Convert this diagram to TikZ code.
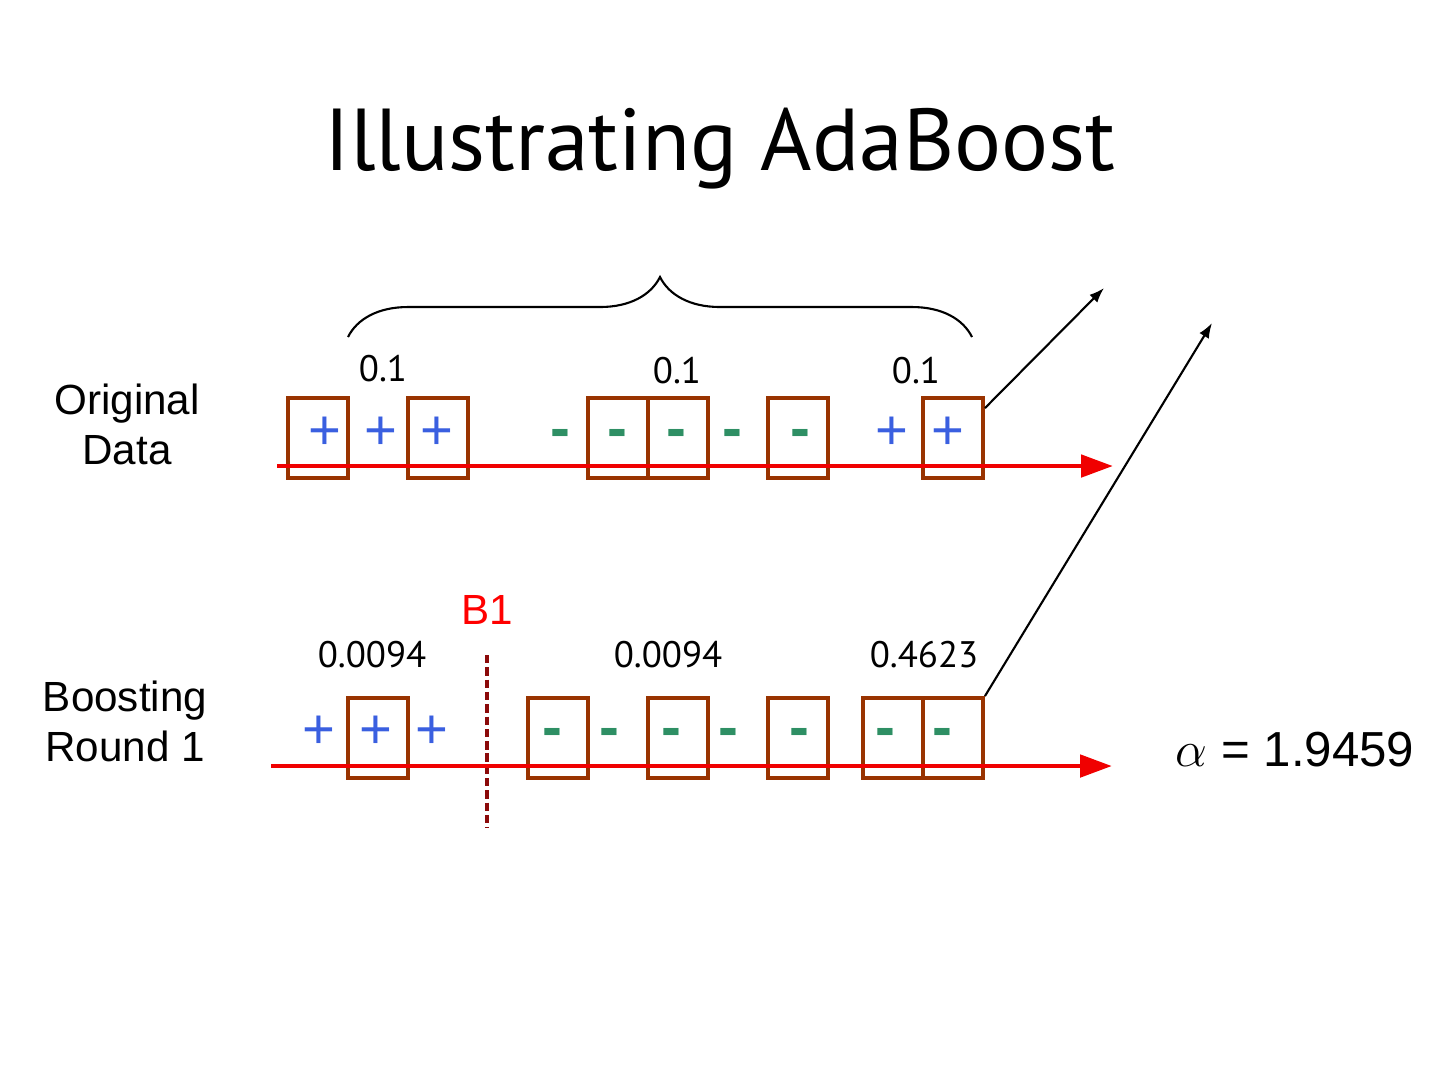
\documentclass[tikz,border=0pt]{standalone}
\usepackage{fontspec}
\setmainfont{Liberation Sans}
\newfontfamily\numfont{PT Sans}
\usepackage{tikz}
\usetikzlibrary{arrows.meta,calc,decorations.pathreplacing}
\definecolor{boxbrown}{HTML}{993300}
\definecolor{plusblue}{HTML}{3A5FE0}
\definecolor{minusgreen}{HTML}{2E8F64}
\definecolor{axisred}{HTML}{F00000}
\definecolor{cutred}{HTML}{8B0A0A}

\begin{document}
\begin{tikzpicture}[x=0.1mm,y=-0.1mm,>=Latex]
\tikzset{bx/.style={draw=boxbrown,line width=1.1pt,minimum width=6mm,minimum height=8mm,inner sep=0pt}, pl/.style={text=plusblue,font=\fontsize{16}{16}\selectfont,inner sep=0pt}, mi/.style={text=minusgreen,font=\fontsize{17}{17}\selectfont\bfseries,inner sep=0pt}, w/.style={font=\numfont\fontsize{10.5}{12}\selectfont,anchor=base}, ax/.style={-{Triangle[length=3.2mm,width=2.2mm]},line width=1.4pt,draw=axisred}, lb/.style={font=\fontsize{12}{14.2}\selectfont,align=center}, a/.style={-{Latex[length=1.5mm,width=1.1mm]},line width=0.6pt}}
\useasboundingbox (0,0) rectangle (1440,1080);
\node[anchor=base,font=\numfont\fontsize{25}{30}\selectfont] (title) at (720,170) {Illustrating AdaBoost};
% original data
\node[lb] (orig) at (127,424) {Original\\Data};
\node[bx] (t1) at (318,438) {};\node[bx] (t2) at (438,438) {};\node[bx] (t3) at (618,438) {};
\node[bx] (t4) at (678,438) {};\node[bx] (t5) at (798,438) {};\node[bx] (t6) at (953,438) {};
\node[pl] (tp1) at (325,433) {+};\node[pl] (tp2) at (381,433) {+};\node[pl] (tp3) at (437,433) {+};
\node[mi] (tm1) at (560,439) {-};\node[mi] (tm2) at (617,439) {-};\node[mi] (tm3) at (676,439) {-};\node[mi] (tm4) at (732,439) {-};\node[mi] (tm5) at (800,439) {-};
\node[pl] (tp4) at (892,433) {+};\node[pl] (tp5) at (948,433) {+};
\coordinate (ta0) at (277,466);\coordinate (ta1) at (1113,466);
\draw[ax] (ta0)--(ta1);
\node[w] (tw1) at (383,381) {0.1};\node[w] (tw2) at (677,383) {0.1};\node[w] (tw3) at (916,383) {0.1};
\coordinate (br0) at (348,337);\coordinate (br1) at (972,337);
\draw[line width=0.6pt,decorate,decoration={brace,amplitude=6mm}] (br0)--(br1);
% boosting round 1
\node[lb] (round) at (125,721) {Boosting\\Round 1};
\node[text=red,font=\fontsize{12}{14}\selectfont] (cut) at (487,610) {B1};
\coordinate (c0) at (487,655);\coordinate (c1) at (487,828);
\draw[cutred,line width=1.3pt,dash pattern=on 2.4pt off 1.1pt] (c0)--(c1);
\node[bx] (b1) at (378,738) {};\node[bx] (b2) at (558,738) {};\node[bx] (b3) at (678,738) {};
\node[bx] (b4) at (798,738) {};\node[bx] (b5) at (893,738) {};\node[bx] (b6) at (953,738) {};
\node[pl] (bp1) at (319,732) {+};\node[pl] (bp2) at (376,732) {+};\node[pl] (bp3) at (432,732) {+};
\node[mi] (bm1) at (552,738) {-};\node[mi] (bm2) at (609,738) {-};\node[mi] (bm3) at (671,738) {-};\node[mi] (bm4) at (728,738) {-};
\node[mi] (bm5) at (799,738) {-};\node[mi] (bm6) at (885,738) {-};\node[mi] (bm7) at (942,738) {-};
\coordinate (ba0) at (271,766);\coordinate (ba1) at (1112,766);
\draw[ax] (ba0)--(ba1);
\node[w] (bw1) at (372,667) {0.0094};\node[w] (bw2) at (668,667) {0.0094};\node[w] (bw3) at (924,667) {0.4623};
\node[anchor=base,font=\fontsize{14}{16}\selectfont] (alpha) at (1295,766) {$\alpha$ = 1.9459};
% arrows out
\coordinate (p1) at (1104,288);\coordinate (p2) at (1212,323);
\draw[a] ($(t6.north east)+(0,12)$)--(p1);
\draw[a] (b6.north east)--(p2);
\end{tikzpicture}
\end{document}
